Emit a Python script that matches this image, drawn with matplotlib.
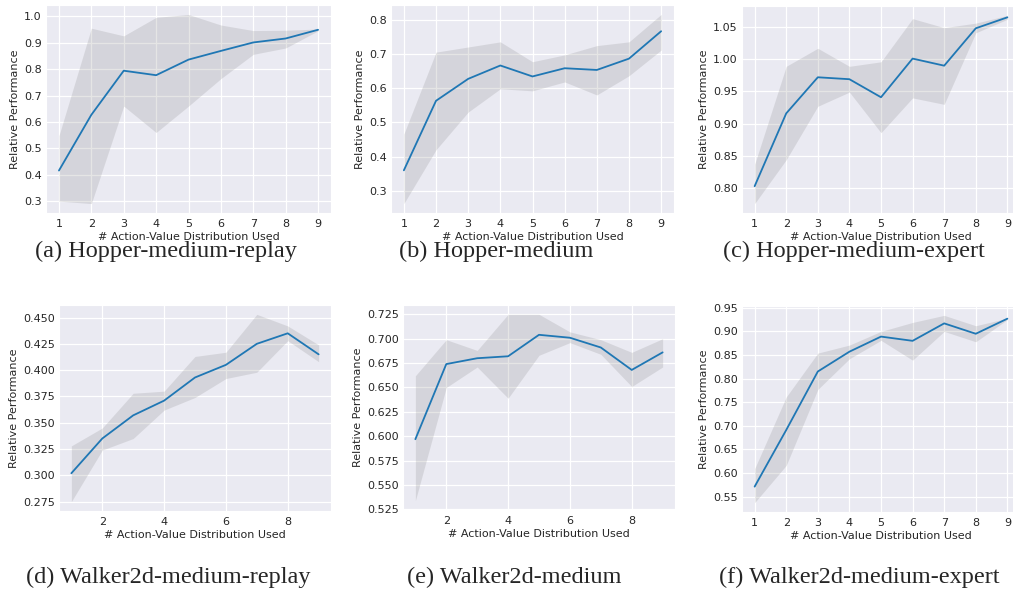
import numpy as np
import matplotlib
matplotlib.use("Agg")
import matplotlib.pyplot as plt
import seaborn as sns

sns.set_style("darkgrid")
plt.rcParams['font.family'] = ['DejaVu Sans']

x = [1, 2, 3, 4, 5, 6, 7, 8, 9]

# (a) Hopper-medium-replay
hmr_mean = [0.416, 0.627, 0.794, 0.777, 0.836, 0.869, 0.901, 0.916, 0.949]
hmr_high = [0.548, 0.955, 0.926, 0.996, 1.007, 0.967, 0.946, 0.947, 0.952]
hmr_low = [0.300, 0.291, 0.660, 0.560, 0.660, 0.764, 0.856, 0.880, 0.945]

# (b) Hopper-medium
hm_mean = [0.360, 0.563, 0.627, 0.666, 0.634, 0.658, 0.653, 0.686, 0.766]
hm_high = [0.466, 0.705, 0.720, 0.735, 0.677, 0.697, 0.724, 0.735, 0.815]
hm_low = [0.263, 0.420, 0.530, 0.598, 0.592, 0.618, 0.580, 0.636, 0.711]

# (c) Hopper-medium-expert
hme_mean = [0.803, 0.916, 0.972, 0.969, 0.941, 1.001, 0.990, 1.048, 1.065]
hme_high = [0.837, 0.989, 1.017, 0.989, 0.996, 1.063, 1.049, 1.056, 1.068]
hme_low = [0.776, 0.844, 0.927, 0.949, 0.886, 0.940, 0.930, 1.041, 1.062]

# (d) Walker2d-medium-replay
wmr_mean = [0.302, 0.335, 0.357, 0.371, 0.393, 0.405, 0.425, 0.435, 0.415]
wmr_high = [0.328, 0.345, 0.378, 0.380, 0.413, 0.417, 0.453, 0.442, 0.424]
wmr_low = [0.275, 0.324, 0.335, 0.362, 0.374, 0.392, 0.398, 0.428, 0.408]

# (e) Walker2d-medium
wm_mean = [0.597, 0.674, 0.680, 0.682, 0.704, 0.701, 0.691, 0.668, 0.686]
wm_high = [0.662, 0.699, 0.688, 0.725, 0.725, 0.707, 0.699, 0.686, 0.700]
wm_low = [0.534, 0.650, 0.671, 0.639, 0.683, 0.696, 0.684, 0.651, 0.671]

# (f) Walker2d-medium-expert
wme_mean = [0.571, 0.691, 0.815, 0.857, 0.889, 0.880, 0.917, 0.895, 0.927]
wme_high = [0.609, 0.761, 0.854, 0.871, 0.900, 0.919, 0.934, 0.912, 0.928]
wme_low = [0.537, 0.616, 0.777, 0.842, 0.881, 0.839, 0.900, 0.878, 0.925]

captions = ["(a) Hopper-medium-replay", "(b) Hopper-medium", "(c) Hopper-medium-expert",
            "(d) Walker2d-medium-replay", "(e) Walker2d-medium", "(f) Walker2d-medium-expert"]

W, H = 1013, 594
fig = plt.figure(figsize=(W / 100, H / 100), dpi=100)


def add_ax(l, t, r, b):
    # pixel box -> figure fraction
    return fig.add_axes([l / W, 1 - b / H, (r - l) / W, (b - t) / H])


boxes = [(46, 5, 331, 213), (391, 5, 674, 213), (742, 6, 1020, 213),
         (59, 305, 331, 511), (403, 305, 675, 510), (742, 306, 1020, 512)]
series = [(hmr_mean, hmr_low, hmr_high), (hm_mean, hm_low, hm_high),
          (hme_mean, hme_low, hme_high), (wmr_mean, wmr_low, wmr_high),
          (wm_mean, wm_low, wm_high), (wme_mean, wme_low, wme_high)]
cap_pos = [(166, 251), (496, 251), (854, 251), (168, 577), (514, 577), (859, 577)]

for i, (box, (m, lo, hi)) in enumerate(zip(boxes, series)):
    ax = add_ax(*box)
    ax.fill_between(x, lo, hi, color="gray", alpha=0.2, linewidth=0)
    ax.plot(x, m, color="#1f77b4", linewidth=1.3)
    ax.set_xlim(0.6, 9.4)
    if i in (3, 4):
        ax.set_xticks([2, 4, 6, 8])
    else:
        ax.set_xticks(x)
    ax.tick_params(labelsize=8, pad=4, colors=".15", length=0)
    ax.tick_params(axis="y", pad=3)
    ax.set_xlabel("# Action-Value Distribution Used", fontsize=8, labelpad=2.5, color=".15")
    ax.set_ylabel("Relative Performance", fontsize=8, labelpad=3, color=".15")
    ax.grid(color="white", linewidth=0.9)
    fig.text(cap_pos[i][0] / W, 1 - cap_pos[i][1] / H, captions[i], ha="center", va="center",
             fontsize=17.5, family=["Liberation Serif", "DejaVu Serif"])

fig.savefig("out.png", dpi=100)
